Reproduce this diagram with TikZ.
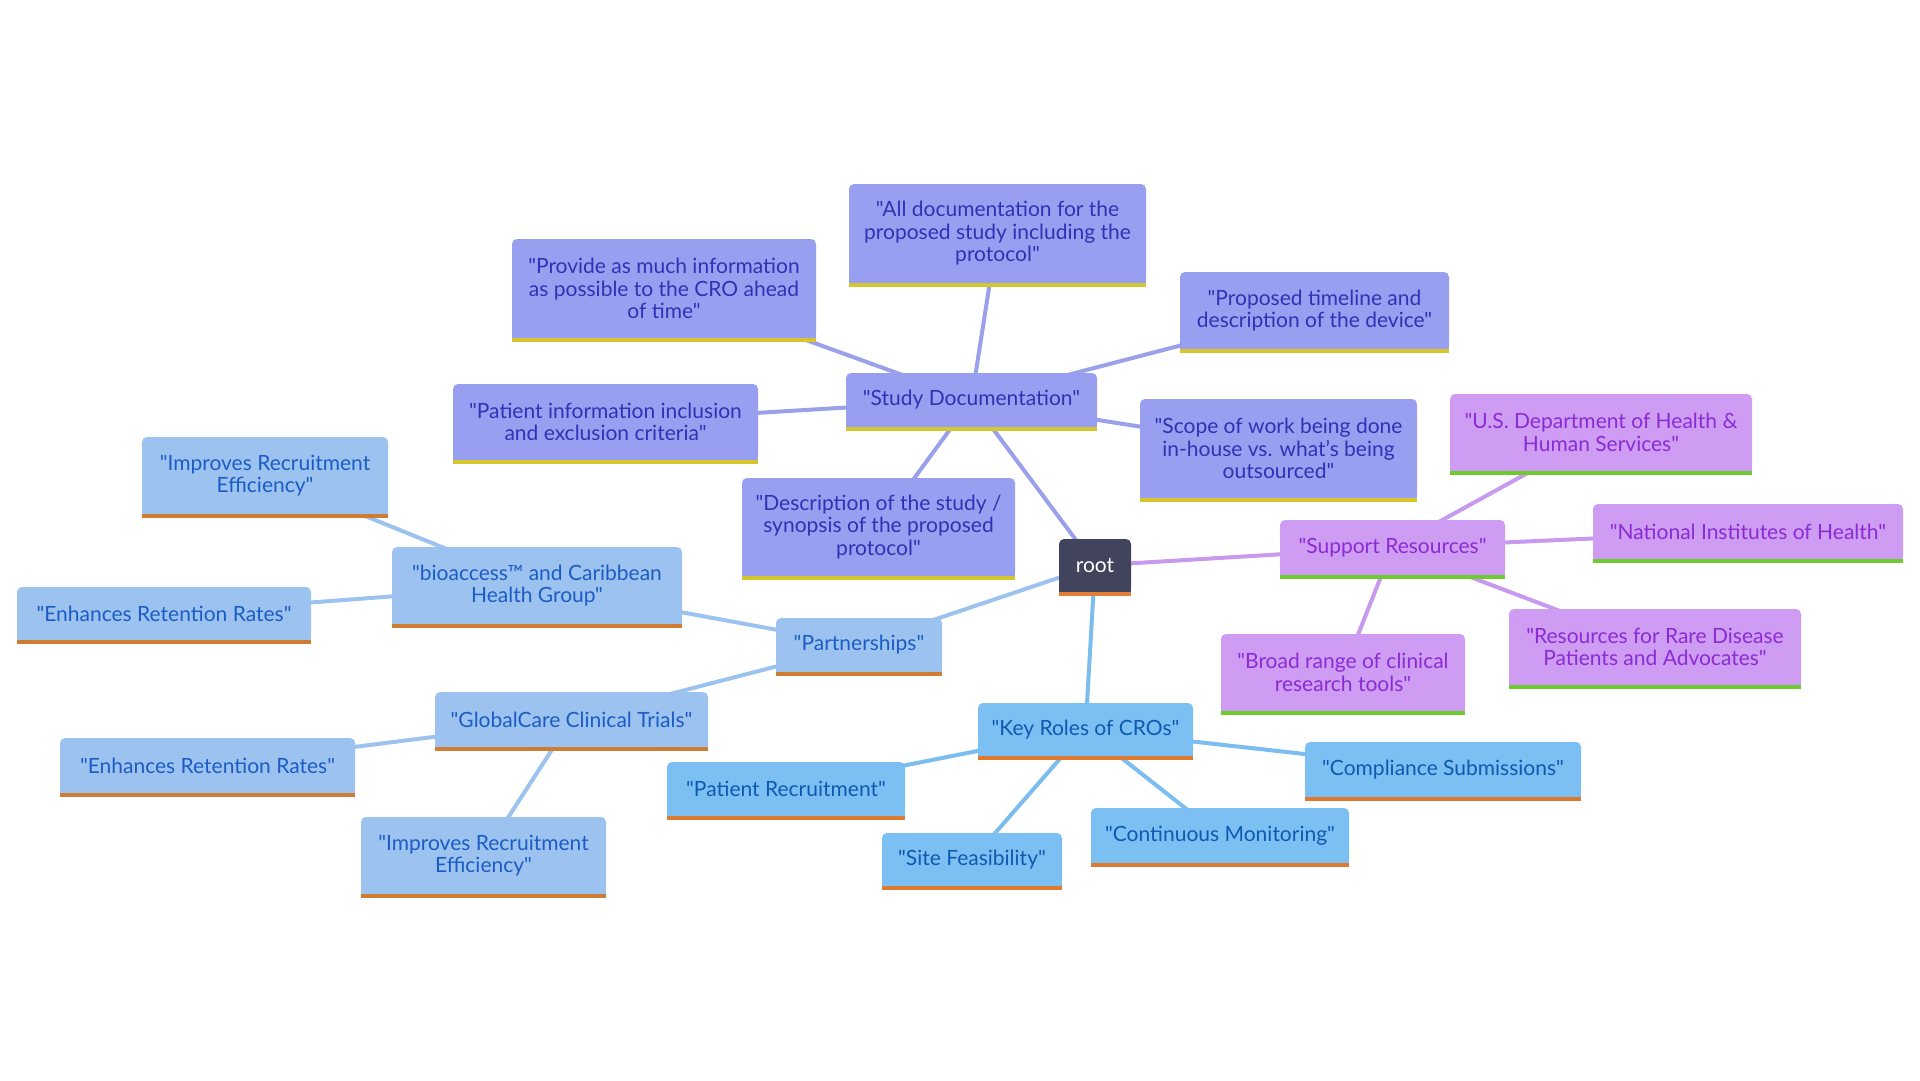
\documentclass[tikz,border=0pt]{standalone}
\usepackage{fontspec}
\setmainfont{Lato}[Ligatures=TeXOff]
\usetikzlibrary{backgrounds}
\definecolor{rootfill}{RGB}{65,68,92}
\definecolor{rootbar}{RGB}{224,126,58}
\definecolor{sdfill}{RGB}{153,159,240}
\definecolor{sdtext}{RGB}{46,50,180}
\definecolor{sdbar}{RGB}{212,198,43}
\definecolor{sdedge}{RGB}{154,160,234}
\definecolor{spfill}{RGB}{206,156,242}
\definecolor{sptext}{RGB}{138,43,212}
\definecolor{spbar}{RGB}{108,203,45}
\definecolor{spedge}{RGB}{200,154,238}
\definecolor{pafill}{RGB}{156,195,240}
\definecolor{patext}{RGB}{28,92,196}
\definecolor{pabar}{RGB}{208,124,50}
\definecolor{paedge}{RGB}{156,195,238}
\definecolor{krfill}{RGB}{124,191,242}
\definecolor{krtext}{RGB}{14,90,176}
\definecolor{krbar}{RGB}{222,122,48}
\definecolor{kredge}{RGB}{123,189,238}
\tikzset{
  box/.style={rectangle, rounded corners=5pt, inner sep=2pt, align=center,
    font=\fontsize{21}{22.5}\selectfont},
  rootbox/.style={box, fill=rootfill, text=white},
  sdbox/.style={box, fill=sdfill, text=sdtext},
  spbox/.style={box, fill=spfill, text=sptext},
  pabox/.style={box, fill=pafill, text=patext},
  krbox/.style={box, fill=krfill, text=krtext},
  link/.style={line width=4pt},
}
\newcommand\mmbar[3]{%
  \fill[#2] ([yshift=6pt]#1.south west) rectangle (#1.south east);
  \fill[#3] (#1.south west) rectangle ([yshift=-4pt]#1.south east);}
\newcommand\mmnode[7]{%
  \node[#1, minimum width=#5pt, minimum height=#6pt] (#2) at (#3,#4) {#7};}
\begin{document}
\begin{tikzpicture}[x=1pt,y=-1pt]
\useasboundingbox (0,0) rectangle (1920,1080);
% root
\mmnode{rootbox}{root}{1095}{565.5}{72}{53}{root}
% study documentation branch
\mmnode{sdbox}{sd}{971.5}{400}{251}{54}{"Study Documentation"}
\mmnode{sdbox}{sda}{997.5}{233.5}{297}{99}{"All documentation for the\\proposed study including the\\protocol"}
\mmnode{sdbox}{sdb}{1314.5}{310.5}{269}{77}{"Proposed timeline and\\description of the device"}
\mmnode{sdbox}{sdc}{1278.5}{448.5}{277}{99}{"Scope of work being done\\in-house vs. what’s being\\outsourced"}
\mmnode{sdbox}{sdd}{664}{288.5}{304}{99}{"Provide as much information\\as possible to the CRO ahead\\of time"}
\mmnode{sdbox}{sde}{605.5}{422}{305}{76}{"Patient information inclusion\\and exclusion criteria"}
\mmnode{sdbox}{sdf}{878.5}{527}{273}{98}{"Description of the study /\\synopsis of the proposed\\protocol"}
% support resources branch
\mmnode{spbox}{sp}{1392.5}{547.5}{225}{55}{"Support Resources"}
\mmnode{spbox}{spa}{1601}{432.5}{302}{77}{"U.S. Department of Health \&\\Human Services"}
\mmnode{spbox}{spb}{1748}{531.5}{310}{55}{"National Institutes of Health"}
\mmnode{spbox}{spc}{1655}{647}{292}{76}{"Resources for Rare Disease\\Patients and Advocates"}
\mmnode{spbox}{spd}{1343}{672.5}{244}{77}{"Broad range of clinical\\research tools"}
% partnerships branch
\mmnode{pabox}{pa}{859}{645}{166}{54}{"Partnerships"}
\mmnode{pabox}{pab}{537}{585.5}{290}{77}{"bioaccess™ and Caribbean\\Health Group"}
\mmnode{pabox}{pab1}{265}{475.5}{246}{77}{"Improves Recruitment\\Efficiency"}
\mmnode{pabox}{pab2}{164}{613.5}{294}{53}{"Enhances Retention Rates"}
\mmnode{pabox}{pag}{571.5}{719.5}{273}{55}{"GlobalCare Clinical Trials"}
\mmnode{pabox}{pag1}{207.5}{765.5}{295}{55}{"Enhances Retention Rates"}
\mmnode{pabox}{pag2}{483.5}{855.5}{245}{77}{"Improves Recruitment\\Efficiency"}
% key roles branch
\mmnode{krbox}{kr}{1085.5}{729.5}{215}{53}{"Key Roles of CROs"}
\mmnode{krbox}{kra}{786}{789}{238}{54}{"Patient Recruitment"}
\mmnode{krbox}{krb}{972}{859.5}{180}{53}{"Site Feasibility"}
\mmnode{krbox}{krc}{1220}{835.5}{258}{55}{"Continuous Monitoring"}
\mmnode{krbox}{krd}{1443}{769.5}{276}{55}{"Compliance Submissions"}
% bottom bars
\mmbar{root}{rootfill}{rootbar}
\foreach \n in {sd,sda,sdb,sdc,sdd,sde,sdf}{\mmbar{\n}{sdfill}{sdbar}}
\foreach \n in {sp,spa,spb,spc,spd}{\mmbar{\n}{spfill}{spbar}}
\foreach \n in {pa,pab,pab1,pab2,pag,pag1,pag2}{\mmbar{\n}{pafill}{pabar}}
\foreach \n in {kr,kra,krb,krc,krd}{\mmbar{\n}{krfill}{krbar}}
% connectors
\begin{scope}[on background layer]
\fill[white] (0,0) rectangle (1920,1080);
\draw[link, sdedge] (root.center) -- (sd.center);
\foreach \n in {sda,sdb,sdc,sdd,sde,sdf}{\draw[link, sdedge] (sd.center) -- (\n.center);}
\draw[link, spedge] (root.center) -- (sp.center);
\foreach \n in {spa,spb,spc,spd}{\draw[link, spedge] (sp.center) -- (\n.center);}
\draw[link, paedge] (root.center) -- (pa.center);
\draw[link, paedge] (pa.center) -- (pab.center);
\draw[link, paedge] (pa.center) -- (pag.center);
\draw[link, paedge] (pab.center) -- (pab1.center);
\draw[link, paedge] (pab.center) -- (pab2.center);
\draw[link, paedge] (pag.center) -- (pag1.center);
\draw[link, paedge] (pag.center) -- (pag2.center);
\draw[link, kredge] (root.center) -- (kr.center);
\foreach \n in {kra,krb,krc,krd}{\draw[link, kredge] (kr.center) -- (\n.center);}
\end{scope}
\end{tikzpicture}
\end{document}
